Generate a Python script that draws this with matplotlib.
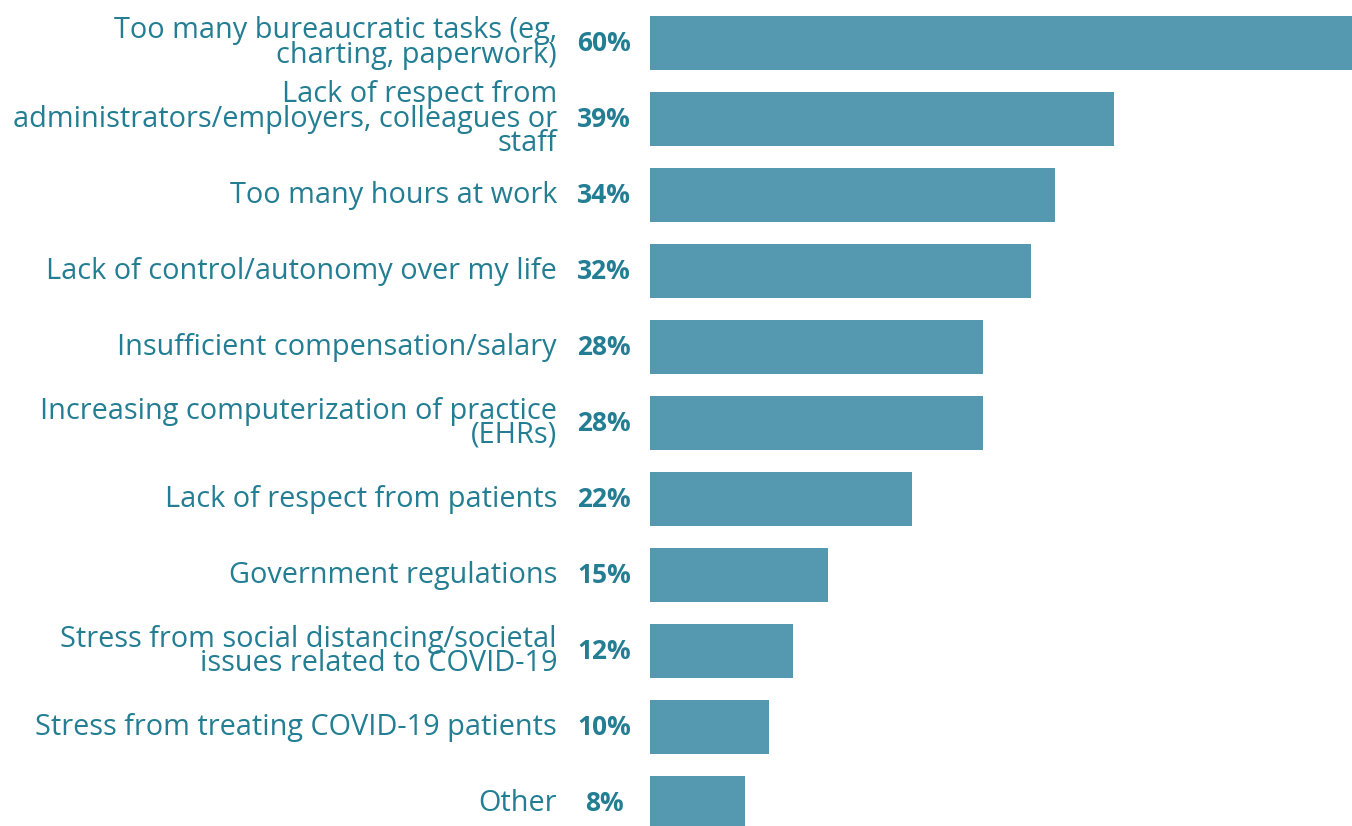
import matplotlib.pyplot as plt
import matplotlib.transforms as mtransforms

categories = [
    'Too many bureaucratic tasks (eg,\ncharting, paperwork)',
    'Lack of respect from\nadministrators/employers, colleagues or\nstaff',
    'Too many hours at work',
    'Lack of control/autonomy over my life',
    'Insufficient compensation/salary',
    'Increasing computerization of practice\n(EHRs)',
    'Lack of respect from patients',
    'Government regulations',
    'Stress from social distancing/societal\nissues related to COVID-19',
    'Stress from treating COVID-19 patients',
    'Other',
]
values = [60, 39, 34, 32, 28, 28, 22, 15, 12, 10, 8]

bar_color = '#5499b0'
text_color = '#237d93'

plt.rcParams['font.family'] = ['Open Sans', 'DejaVu Sans']

fig = plt.figure(figsize=(13.52, 8.26), dpi=100)
ax = fig.add_axes([650 / 1352, 0, 1 - 650 / 1352, 1])

pos = list(range(len(values)))
ax.barh(pos, values, height=0.71, color=bar_color)
ax.set_xlim(0, 59)
ax.set_ylim(10.3, -0.566)
ax.axis('off')

trans = mtransforms.blended_transform_factory(fig.transFigure, ax.transData)
for i, (lab, v) in enumerate(zip(categories, values)):
    fig.text(557 / 1352, i, lab, transform=trans, ha='right', va='center',
             fontsize=20.8, color=text_color, linespacing=0.78)
    fig.text(604 / 1352, i, f'{v}%', transform=trans, ha='center', va='center',
             fontsize=19, color=text_color, fontweight='bold')

fig.savefig('out.png', dpi=100)
